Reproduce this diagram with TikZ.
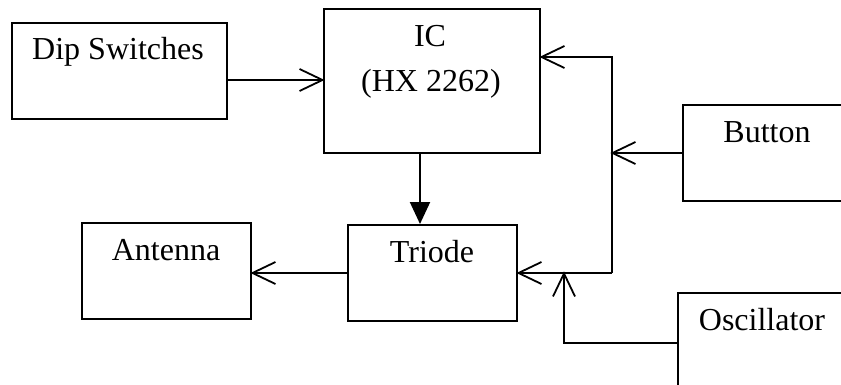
\documentclass[tikz,border=0pt]{standalone}
\usepackage{fontspec}
\setmainfont{Liberation Serif}
\usetikzlibrary{arrows.meta}
\begin{document}
\begin{tikzpicture}[x=0.5pt,y=-0.5pt,
  box/.style={draw,line width=1pt,rectangle,inner sep=0pt},
  lbl/.style={anchor=base,inner sep=0pt,font=\fontsize{16}{19}\selectfont},
  conn/.style={line width=1pt},
  oa/.style={conn,shorten >=-0.8pt,-{Straight Barb[length=11.5pt,width=11pt,line width=0.9pt]}},
  fa/.style={conn,-{Triangle[length=11pt,width=10pt]}}]
\useasboundingbox (0,0) rectangle (841,385);
\clip (0,0) rectangle (841,385);
% boxes
\node[box,minimum width=107.5pt,minimum height=48pt] (dip) at (119.5,71) {};
\node[box,minimum width=108pt,minimum height=72pt] (ic) at (432,81) {};
\node[box,minimum width=84.5pt,minimum height=48pt] (triode) at (432.5,273) {};
\node[box,minimum width=84.5pt,minimum height=48pt] (antenna) at (166.5,271) {};
\node[box,minimum width=108.5pt,minimum height=48pt] (button) at (791.5,153) {};
\node[box,minimum width=111pt,minimum height=63.5pt] (osc) at (789,356.5) {};
% texts
\node[lbl] (tdip) at (118,60) {Dip Switches};
\node[lbl] (tic1) at (430,47) {IC};
\node[lbl] (tic2) at (431,92) {(HX 2262)};
\node[lbl] (ttri) at (432,262) {Triode};
\node[lbl] (tant) at (166,260) {Antenna};
\node[lbl] (tbut) at (767,143) {Button};
\node[lbl] (tosc) at (762,330) {Oscillator};
% junctions
\coordinate (y80) at (0,80);
\coordinate (x420) at (420,0);
\coordinate (j1) at (612,57);
\coordinate (j2) at (612,153);
\coordinate (j3) at (612,273);
\coordinate (j4) at (564,273);
\coordinate (j5) at (564,343);
% connectors
\draw[oa] (dip.east |- y80) -- (ic.west |- y80);
\draw[fa] (ic.south -| x420) -- (triode.north -| x420);
\draw[oa] (j3) -- (j1) -- (ic.east |- j1);
\draw[oa] (j3) -- (triode.east |- j3);
\draw[oa] (button.west |- j2) -- (j2);
\draw[oa] (osc.west |- j5) -- (j5) -- (j4);
\draw[oa] (triode.west |- j3) -- (antenna.east |- j3);
\end{tikzpicture}
\end{document}
